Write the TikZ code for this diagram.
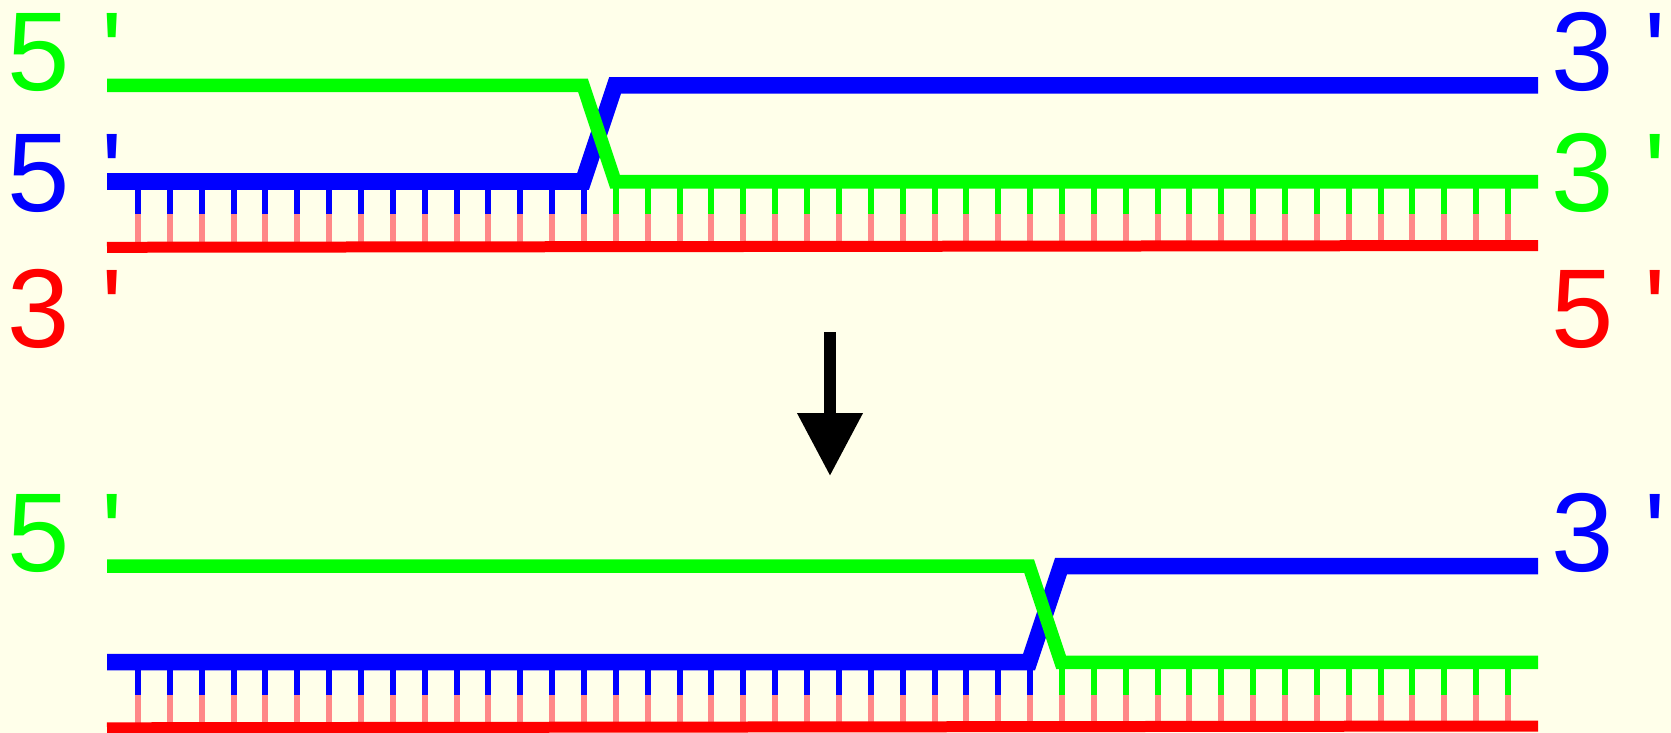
\documentclass[tikz,border=0pt]{standalone}
\usepackage{fontspec}
\newfontfamily\labfont[Ligatures=TeXOff]{Liberation Sans}
\usetikzlibrary{arrows.meta}
\definecolor{bg}{RGB}{255,255,234}
\definecolor{dnagreen}{RGB}{0,255,0}
\definecolor{dnablue}{RGB}{0,0,255}
\definecolor{dnared}{RGB}{255,0,0}
\definecolor{pairpink}{RGB}{255,136,136}
\begin{document}
\begin{tikzpicture}[x=0.5pt,y=-0.5pt,
  greenstrand/.style={draw=dnagreen,line width=6.75pt,line join=miter},
  bluestrand/.style={draw=dnablue,line width=8.25pt,line join=miter},
  redstrand/.style={draw=dnared,line width=5.5pt},
  tickpart/.style={line width=3pt},
  endlabel/.style={font=\labfont\fontsize{56}{56}\selectfont,anchor=base west,inner sep=0pt,outer sep=0pt}]
\fill[bg] (0,0) rectangle (1671,733);
\useasboundingbox (0,0) rectangle (1671,733);
\foreach \dy/\kc [count=\p] in {0/14,480.5/28}{
  \pgfmathsetmacro\xa{137+31.86*\kc}
  \pgfmathsetmacro\xb{\xa+32}
  % base-pair ticks
  \foreach \k in {0,...,43}{
    \pgfmathsetmacro\tx{138+31.86*\k}
    \ifnum\k>\kc\relax\def\tc{dnagreen}\else\def\tc{dnablue}\fi
    \draw[tickpart,draw=\tc] (\tx,181.5+\dy) -- (\tx,214+\dy);
    \draw[tickpart,draw=pairpink] (\tx,214+\dy) -- (\tx,245.5+\dy);
  }
  % template strand
  \coordinate (rs\p) at (107,247.3+\dy);
  \coordinate (re\p) at (1538,245.5+\dy);
  \draw[redstrand] (rs\p) -- (re\p);
  % blue strand
  \coordinate (bs\p) at (107,181.5+\dy);
  \coordinate (bk\p) at (\xa,181.5+\dy);
  \coordinate (bj\p) at (\xb,85.5+\dy);
  \coordinate (be\p) at (1538,85.5+\dy);
  \draw[bluestrand] (bs\p) -- (bk\p) -- (bj\p) -- (be\p);
  % green strand
  \coordinate (gs\p) at (107,85.5+\dy);
  \coordinate (gk\p) at (\xa,85.5+\dy);
  \coordinate (gj\p) at (\xb,181.75+\dy);
  \coordinate (ge\p) at (1538,181.75+\dy);
  \draw[greenstrand] (gs\p) -- (gk\p) -- (gj\p) -- (ge\p);
}
% end labels, top panel
\node[endlabel,text=dnagreen] (lg1) at (8,91) {5 '};
\node[endlabel,text=dnablue]  (lb1) at (8,212) {5 '};
\node[endlabel,text=dnared]   (lr1) at (8,347) {3 '};
\node[endlabel,text=dnablue]  (rb1) at (1551,91) {3 '};
\node[endlabel,text=dnagreen] (rg1) at (1551,212) {3 '};
\node[endlabel,text=dnared]   (rr1) at (1551,347) {5 '};
% end labels, bottom panel
\node[endlabel,text=dnagreen] (lg2) at (8,571.5) {5 '};
\node[endlabel,text=dnablue]  (rb2) at (1551,571.5) {3 '};
% arrow
\coordinate (arrS) at (830,332);
\coordinate (arrE) at (830,476);
\draw[line width=6pt,-{Triangle[length=31.5pt,width=31.3pt]}] (arrS) -- (arrE);
\end{tikzpicture}
\end{document}
